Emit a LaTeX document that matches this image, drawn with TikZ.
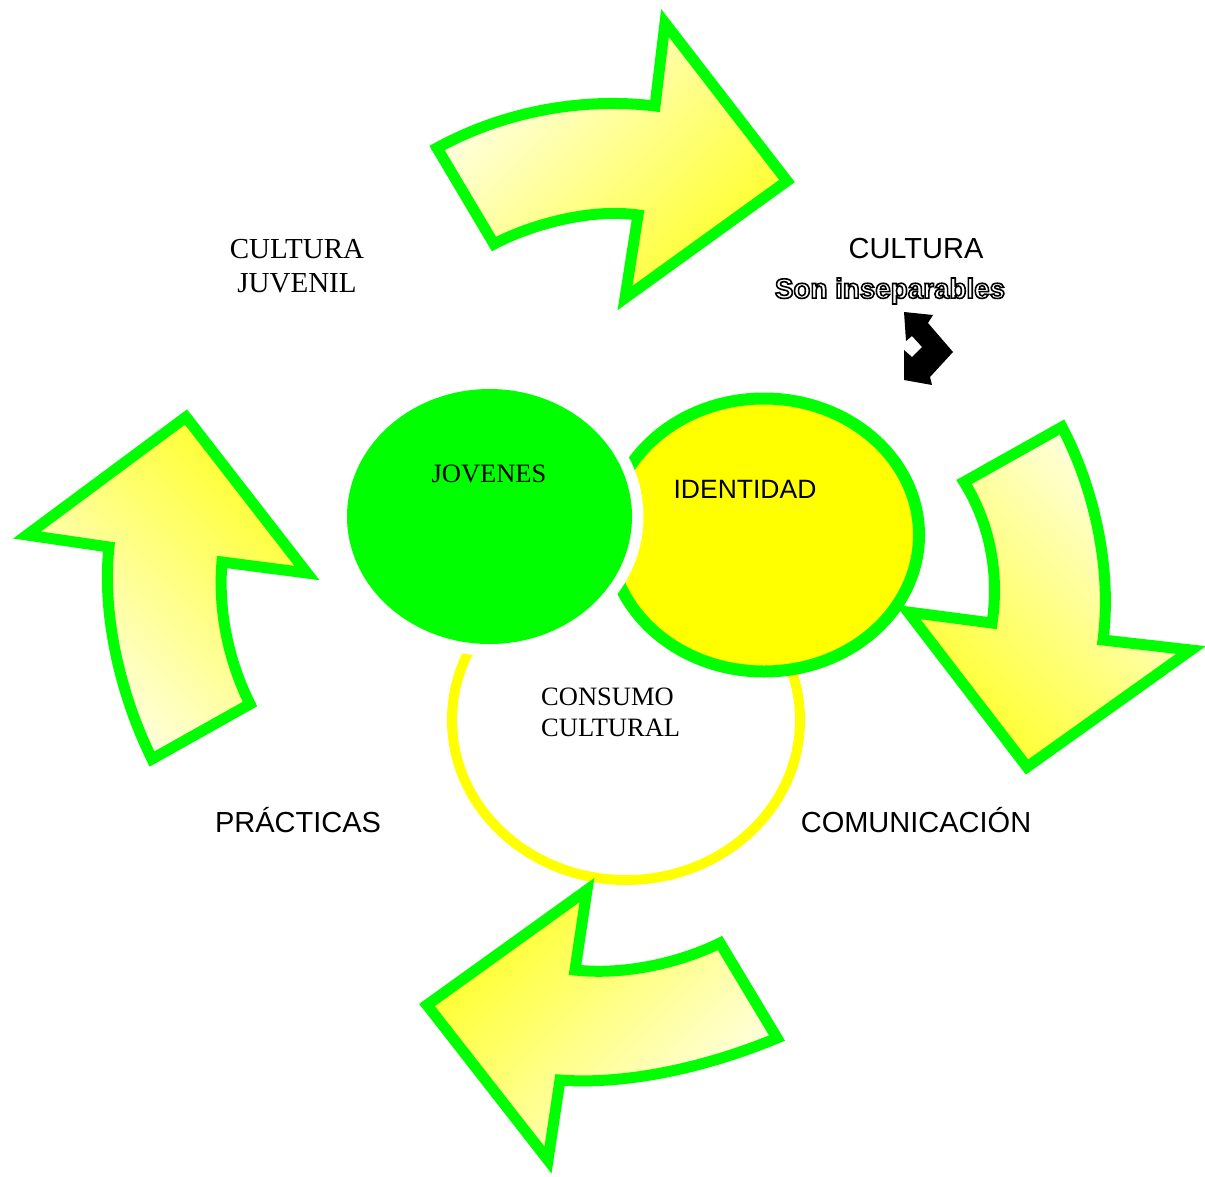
\documentclass[tikz,border=0pt]{standalone}
\usepackage{fontspec}
\setmainfont{Liberation Serif}
\newfontfamily\arialf{Liberation Sans}
\newfontfamily\serf{Liberation Serif}
\definecolor{ggreen}{RGB}{0,255,0}
\definecolor{yyellow}{RGB}{255,255,0}
\definecolor{lightyel}{RGB}{255,255,238}
\definecolor{darkyel}{RGB}{255,255,40}
\newcommand{\outlinetext}[1]{\special{pdf:literal direct 2 Tr 1.6 w 0 0 0 RG}#1\special{pdf:literal direct 0 Tr}}
\begin{document}
\begin{tikzpicture}[x=1pt,y=-1pt,
  arrowbox/.style={draw=ggreen, line width=11pt, line join=miter, miter limit=10},
  sanslbl/.style={font=\arialf\fontsize{29}{34}\selectfont, inner sep=0pt},
  serlbl/.style={font=\serf\fontsize{29}{34}\selectfont, inner sep=0pt, align=center},
  insans/.style={font=\arialf\fontsize{26.5}{31}\selectfont, inner sep=0pt},
  inser/.style={font=\serf\fontsize{26.5}{31}\selectfont, inner sep=0pt},
  seplbl/.style={font=\arialf\bfseries\fontsize{27.8}{31}\selectfont, inner sep=0pt}]
\useasboundingbox (0,0) rectangle (1205,1176);
\fill[white] (0,0) rectangle (1205,1176);

% consumo cultural ring
\draw[yyellow, line width=10pt] (626,720) ellipse [x radius=174, y radius=160];
% identidad
\filldraw[fill=yyellow, draw=ggreen, line width=12pt] (764,535) ellipse [x radius=155, y radius=136.5];
% jovenes with white halo
\fill[white] (489.5,516.5) ellipse [x radius=154, y radius=139];
\fill[ggreen] (489.5,516.5) ellipse [x radius=142.5, y radius=127.5];

% top arrow
\path[arrowbox, top color=lightyel, bottom color=darkyel, shading angle=45]
  (437,148) .. controls (510,108) and (590,98) .. (655,106) -- (665,23) -- (787,181)
  -- (625,298) -- (638,215) .. controls (590,208) and (530,225) .. (494,244) -- cycle;
% right arrow
\path[arrowbox, top color=lightyel, bottom color=darkyel, shading angle=-45]
  (1062,427) .. controls (1095,490) and (1112,570) .. (1103,640) -- (1191,650) -- (1027,767)
  -- (908,612) -- (992,623) .. controls (1000,570) and (988,520) .. (964,482) -- cycle;
% bottom arrow
\path[arrowbox, top color=lightyel, bottom color=darkyel, shading angle=-135]
  (427,1005) -- (587,890) -- (575,970) .. controls (620,975) and (675,965) .. (720,943)
  -- (777,1038) .. controls (705,1068) and (625,1085) .. (560,1080) -- (548,1160) -- cycle;
% left arrow
\path[arrowbox, top color=lightyel, bottom color=darkyel, shading angle=135]
  (186,417) -- (307,573) -- (222,562) .. controls (218,610) and (228,660) .. (250,704)
  -- (152,759) .. controls (118,690) and (102,610) .. (109,547) -- (27,535) -- cycle;

% black double arrow icon
\fill[black] (904,312) -- (906,341) -- (912,336) -- (922,347) -- (912,357) -- (904,350)
  -- (904,380) -- (932,385) -- (930,377) -- (953,352) -- (928,323) -- (933,315) -- cycle;

% labels
\node[serlbl] (cj) at (297,266) {CULTURA\\JUVENIL};
\node[sanslbl] (cu) at (916,249) {CULTURA};
\node[sanslbl] (pr) at (298,820) {PRÁCTICAS};
\node[sanslbl] (co) at (916,820) {COMUNICACIÓN};
\node[inser] (jo) at (489,474) {JOVENES};
\node[insans] (id) at (745,489) {IDENTIDAD};
\node[inser, align=left, anchor=west] (cc) at (541,712) {CONSUMO\\CULTURAL};

% outlined "Son inseparables"
\node[seplbl, text=white] (sep) at (890,291) {\outlinetext{Son inseparables}};
\end{tikzpicture}
\end{document}
